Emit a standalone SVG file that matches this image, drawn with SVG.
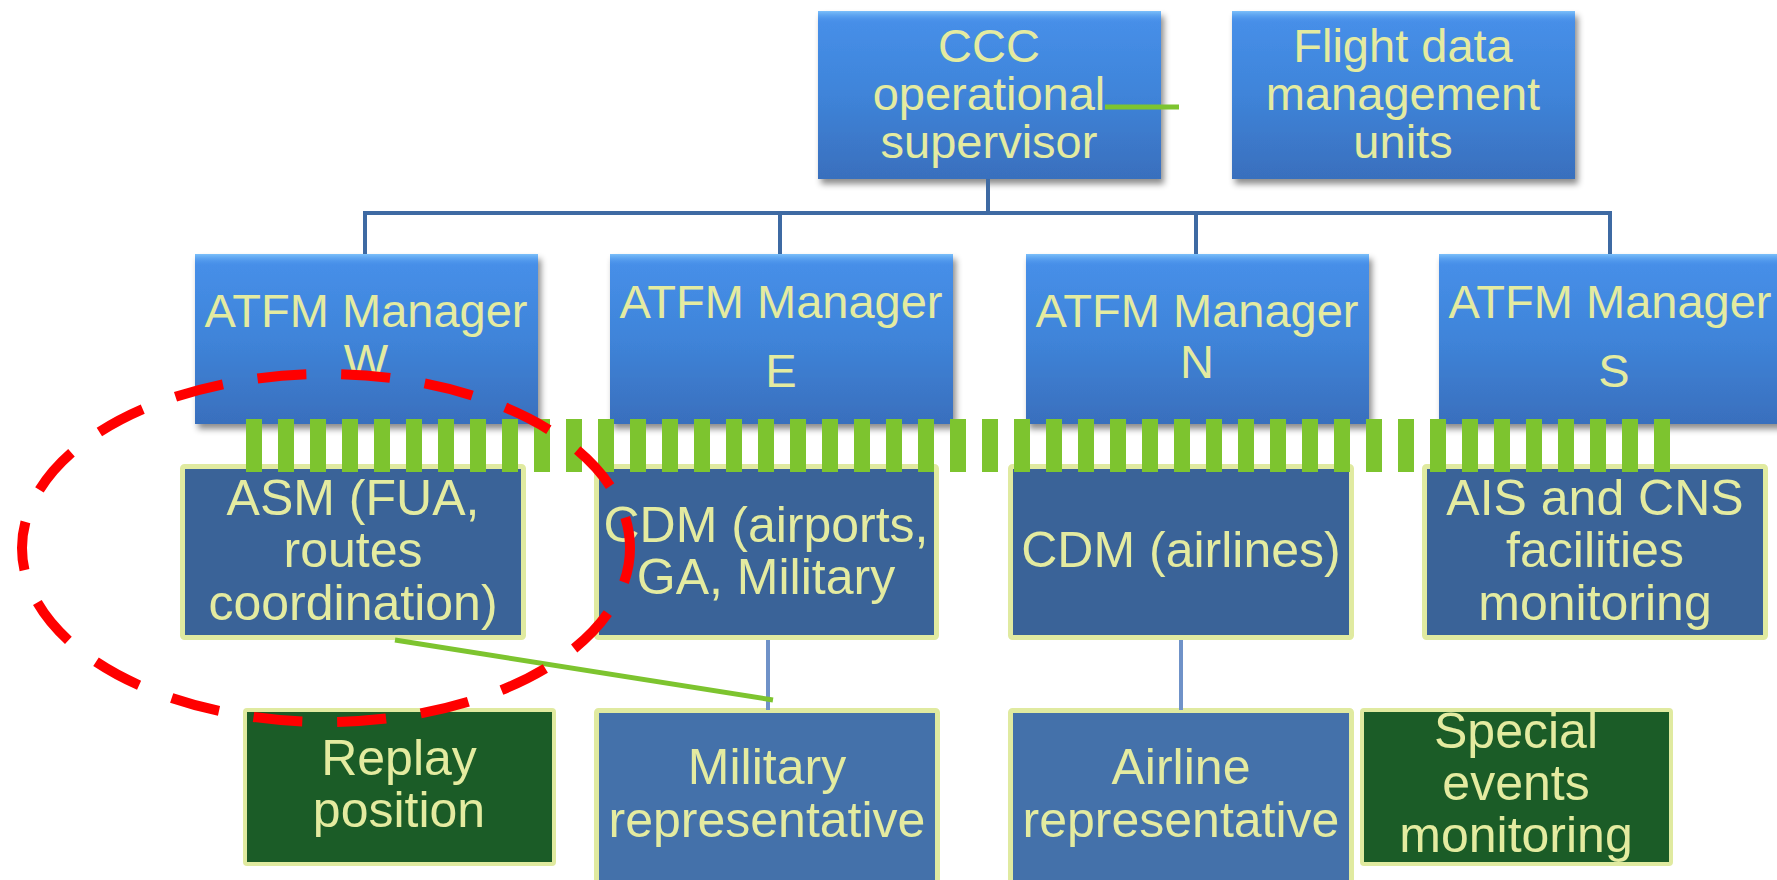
<svg xmlns="http://www.w3.org/2000/svg" width="1777" height="880" viewBox="0 0 1777 880">
<style>
.t1{font-family:"Liberation Sans",Arial,sans-serif;font-size:47px;fill:#e4eba0;text-anchor:middle}
.t2{font-family:"Liberation Sans",Arial,sans-serif;font-size:50px;fill:#e4eba0;text-anchor:middle}
.top{fill:url(#gTop);filter:url(#sh)}
.bev{fill:url(#gBev)}
.mid{fill:#3a6398;stroke:#e0eaa0;stroke-width:5}
.low{fill:#4471aa;stroke:#e0eaa0;stroke-width:5}
.grn{fill:#1b5c27;stroke:#e0eaa0;stroke-width:4}
.blue{stroke:#3e6aa3;stroke-width:4;fill:none}
.lblue{stroke:#6f92c8;stroke-width:4;fill:none}
.gline{stroke:#7dc42f;stroke-width:5;fill:none}
</style>
<defs>
<linearGradient id="gTop" x1="0" y1="0" x2="0" y2="1">
<stop offset="0" stop-color="#4790ea"/>
<stop offset="0.5" stop-color="#3f84d9"/>
<stop offset="1" stop-color="#396fbd"/>
</linearGradient>
<linearGradient id="gBev" x1="0" y1="0" x2="0" y2="1">
<stop offset="0" stop-color="#7cc0fa"/>
<stop offset="1" stop-color="#4790ea" stop-opacity="0"/>
</linearGradient>
<filter id="sh" x="-10%" y="-10%" width="125%" height="130%">
<feDropShadow dx="3" dy="5" stdDeviation="3" flood-color="#000" flood-opacity="0.45"/>
</filter>
</defs>

<g id="node-ccc">
<rect class="top" x="818" y="11" width="343" height="168"/>
<rect class="bev" x="818" y="11" width="343" height="12"/>
<text class="t1" x="989" y="62">CCC</text>
<text class="t1" x="989" y="110">operational</text>
<text class="t1" x="989" y="158">supervisor</text>
</g>
<g id="node-fdmu">
<rect class="top" x="1232" y="11" width="343" height="168"/>
<rect class="bev" x="1232" y="11" width="343" height="12"/>
<text class="t1" x="1403" y="62">Flight data</text>
<text class="t1" x="1403" y="110">management</text>
<text class="t1" x="1403" y="158">units</text>
</g>

<g id="node-atfm-w">
<rect class="top" x="195" y="254" width="343" height="170"/>
<rect class="bev" x="195" y="254" width="343" height="12"/>
<text class="t1" x="366" y="327">ATFM Manager</text>
<text class="t1" x="366" y="377">W</text>
</g>
<g id="node-atfm-e">
<rect class="top" x="610" y="254" width="343" height="170"/>
<rect class="bev" x="610" y="254" width="343" height="12"/>
<text class="t1" x="781" y="318">ATFM Manager</text>
<text class="t1" x="781" y="387">E</text>
</g>
<g id="node-atfm-n">
<rect class="top" x="1026" y="254" width="343" height="170"/>
<rect class="bev" x="1026" y="254" width="343" height="12"/>
<text class="t1" x="1197" y="327">ATFM Manager</text>
<text class="t1" x="1197" y="378">N</text>
</g>
<g id="node-atfm-s">
<rect class="top" x="1439" y="254" width="343" height="170"/>
<rect class="bev" x="1439" y="254" width="343" height="12"/>
<text class="t1" x="1610" y="318">ATFM Manager</text>
<text class="t1" x="1614" y="387">S</text>
</g>

<g id="node-asm">
<rect class="mid" x="182.5" y="466.5" width="341" height="171" rx="2"/>
<text class="t2" x="353" y="515">ASM (FUA,</text>
<text class="t2" x="353" y="567">routes</text>
<text class="t2" x="353" y="620">coordination)</text>
</g>
<g id="node-cdm-airports">
<rect class="mid" x="596.5" y="466.5" width="340" height="171" rx="2"/>
<text class="t2" x="766" y="542">CDM (airports,</text>
<text class="t2" x="766" y="594">GA, Military</text>
</g>
<g id="node-cdm-airlines">
<rect class="mid" x="1010.5" y="466.5" width="341" height="171" rx="2"/>
<text class="t2" x="1181" y="567">CDM (airlines)</text>
</g>
<g id="node-ais">
<rect class="mid" x="1424.5" y="466.5" width="341" height="171" rx="2"/>
<text class="t2" x="1595" y="515">AIS and CNS</text>
<text class="t2" x="1595" y="567">facilities</text>
<text class="t2" x="1595" y="620">monitoring</text>
</g>

<g id="node-replay">
<rect class="grn" x="245" y="710" width="309" height="154" rx="2"/>
<text class="t2" x="399" y="775">Replay</text>
<text class="t2" x="399" y="827">position</text>
</g>
<g id="node-military">
<rect class="low" x="596.5" y="710.5" width="341" height="175" rx="2"/>
<text class="t2" x="767" y="784">Military</text>
<text class="t2" x="767" y="837">representative</text>
</g>
<g id="node-airline">
<rect class="low" x="1010.5" y="710.5" width="341" height="175" rx="2"/>
<text class="t2" x="1181" y="784">Airline</text>
<text class="t2" x="1181" y="837">representative</text>
</g>
<g id="node-special">
<rect class="grn" x="1362" y="710" width="309" height="154" rx="2"/>
<text class="t2" x="1516" y="748">Special</text>
<text class="t2" x="1516" y="800">events</text>
<text class="t2" x="1516" y="852">monitoring</text>
</g>

<g id="connectors">
<path class="blue" d="M988 179V213M365 213H1610M365 211V254M780 211V254M1196 211V254M1610 211V254"/>
<path class="lblue" d="M768 640V710M1181 640V710"/>
<line class="gline" x1="1105" y1="107" x2="1179" y2="107" stroke-width="6"/>
<line class="gline" x1="395" y1="640" x2="773" y2="700"/>
<line x1="246" y1="445.5" x2="1670" y2="445.5" stroke="#7dc42f" stroke-width="53" stroke-dasharray="16 16"/>
</g>

<g id="annotation">
<ellipse cx="326" cy="548" rx="304" ry="174" fill="none" stroke="#ff0000" stroke-width="10" stroke-dasharray="49 35" stroke-dashoffset="14"/>
</g>
</svg>
